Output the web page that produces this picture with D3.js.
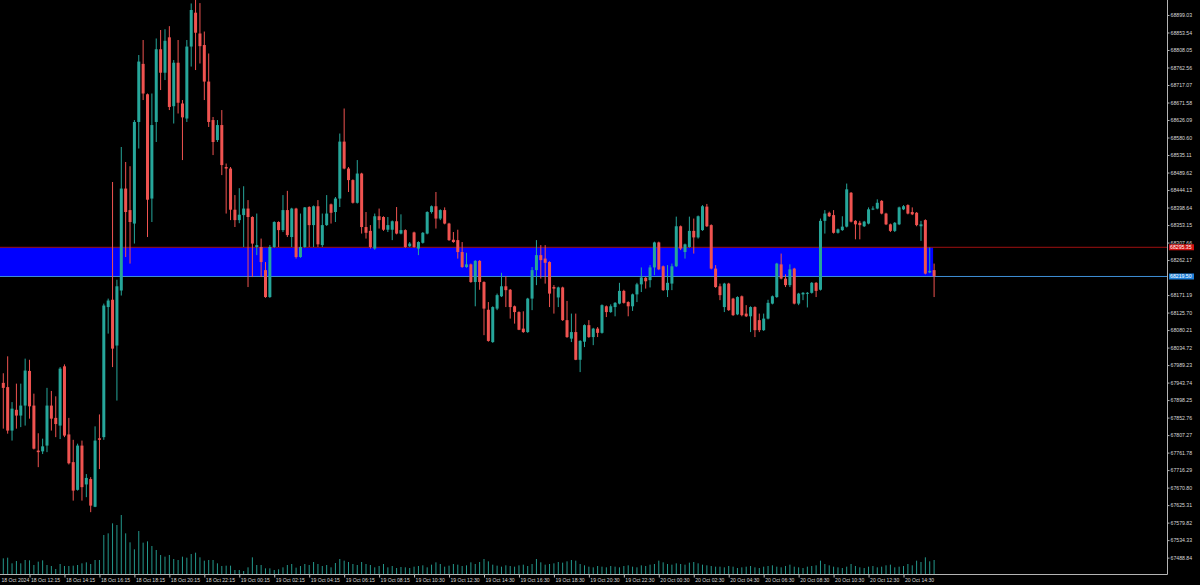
<!DOCTYPE html>
<html><head><meta charset="utf-8">
<script src="https://cdn.jsdelivr.net/npm/d3@7/dist/d3.min.js"></script>
<style>html,body{margin:0;padding:0;background:#000;}svg{display:block;}</style>
</head><body>
<svg id="c" width="1200" height="585"></svg>
<script>
// ---------- DATA ----------
const opens = [67943,67932,67819,67873,67858,67884,67974,67884,67767,67765,67780,67884,67852,67832,67986,67809,67737,67665,67780,67679,67693,67621,67799,67802,68140,68159,68040,68183,68448,68392,68357,68621,68772,68693,68422,68621,68810,68749,68841,68662,68775,68669,68630,68817,68905,68851,68821,68726,68626,68574,68613,68504,68500,68393,68366,68379,68396,68374,68296,68296,68236,68166,68296,68361,68340,68392,68322,68396,68270,68296,68400,68353,68402,68301,68353,68407,68387,68422,68570,68500,68470,68411,68487,68348,68338,68292,68376,68374,68341,68341,68363,68331,68340,68298,68334,68292,68307,68331,68387,68402,68370,68392,68357,68315,68314,68283,68244,68251,68205,68260,68205,68133,68049,68136,68168,68194,68185,68142,68127,68084,68075,68162,68236,68275,68266,68257,68192,68165,68191,68106,68058,68075,68003,68050,68093,68062,68084,68073,68142,68127,68140,68149,68182,68153,68142,68173,68199,68216,68210,68243,68308,68246,68184,68201,68246,68350,68283,68296,68338,68321,68340,68401,68353,68240,68194,68140,68201,68162,68121,68168,68123,68116,68140,68106,68080,68110,68149,68166,68251,68214,68197,68240,68149,68173,68175,68177,68203,68185,68364,68385,68379,68333,68340,68349,68437,68364,68359,68350,68357,68394,68396,68416,68383,68355,68338,68355,68394,68405,68387,68385,68350,68366,68230,68236];
const highs = [67968,68012,67893,67941,67941,68006,68003,67915,67812,67798,67930,67922,67908,67984,67991,67852,67795,67785,67793,67706,67698,67830,67861,68149,68162,68465,68211,68556,68517,68506,68626,68795,68834,68695,68695,68838,68860,68862,68870,68782,68834,68678,68834,68929,68938,68930,68856,68799,68634,68626,68652,68513,68504,68431,68449,68454,68418,68376,68383,68318,68257,68301,68363,68363,68431,68442,68398,68398,68383,68400,68402,68404,68418,68383,68431,68409,68426,68591,68656,68504,68472,68522,68489,68387,68353,68383,68396,68376,68374,68365,68400,68381,68342,68309,68336,68311,68335,68389,68404,68439,68394,68399,68359,68335,68341,68309,68281,68253,68262,68262,68207,68153,68142,68175,68229,68220,68187,68144,68129,68129,68164,68244,68314,68301,68301,68259,68197,68193,68193,68156,68123,68123,68054,68095,68106,68086,68088,68147,68144,68147,68153,68203,68185,68155,68175,68203,68243,68218,68249,68310,68310,68248,68249,68253,68375,68352,68305,68375,68370,68378,68405,68408,68355,68249,68201,68203,68203,68164,68168,68170,68145,68142,68142,68123,68123,68159,68170,68255,68279,68225,68251,68242,68177,68179,68179,68205,68205,68370,68392,68388,68392,68344,68376,68461,68439,68366,68364,68364,68399,68402,68420,68418,68385,68357,68361,68401,68405,68407,68399,68387,68364,68368,68295,68253];
const lows = [67824,67811,67793,67824,67828,67832,67850,67770,67724,67758,67763,67819,67802,67797,67802,67731,67637,67663,67637,67646,67607,67620,67719,67795,68071,67984,67897,68170,68270,68253,68305,68552,68678,68322,68361,68569,68704,68730,68652,68617,68643,68522,68621,68765,68756,68773,68678,68608,68535,68569,68483,68383,68366,68348,68358,68296,68192,68218,68275,68218,68164,68164,68294,68296,68335,68322,68296,68266,68268,68294,68296,68296,68296,68296,68351,68357,68361,68400,68498,68439,68409,68409,68331,68318,68292,68289,68344,68338,68335,68314,68329,68329,68294,68296,68294,68275,68305,68329,68383,68344,68366,68355,68312,68307,68266,68242,68242,68203,68142,68185,68067,68050,68047,68132,68166,68140,68110,68097,68080,68073,68073,68132,68197,68214,68201,68140,68123,68140,68104,68060,68049,68002,67971,68036,68060,68041,68062,68071,68114,68125,68116,68147,68149,68116,68130,68153,68179,68188,68191,68223,68236,68182,68166,68184,68244,68288,68266,68294,68279,68318,68338,68348,68238,68190,68158,68127,68130,68117,68119,68116,68114,68075,68062,68075,68078,68108,68147,68164,68212,68192,68192,68147,68145,68158,68139,68175,68166,68183,68331,68374,68331,68331,68338,68347,68360,68316,68316,68348,68355,68392,68394,68381,68353,68335,68335,68353,68392,68381,68379,68350,68312,68225,68228,68166];
const closes = [67930,67819,67876,67858,67884,67975,67882,67772,67763,67778,67884,67850,67836,67980,67806,67734,67663,67780,67672,67696,67624,67793,67795,68144,68157,68032,68194,68448,68387,68361,68621,68778,68695,68419,68613,68810,68749,68832,68660,68775,68671,68633,68817,68912,68853,68818,68726,68621,68569,68613,68509,68500,68393,68366,68380,68396,68374,68305,68301,68257,68166,68296,68361,68340,68392,68327,68396,68270,68296,68399,68353,68402,68303,68353,68383,68385,68422,68570,68500,68470,68411,68487,68348,68333,68296,68376,68366,68341,68353,68363,68331,68340,68296,68305,68296,68309,68333,68387,68402,68370,68392,68357,68314,68309,68283,68244,68251,68205,68260,68205,68136,68052,68140,68171,68194,68184,68140,68127,68081,68075,68162,68236,68275,68262,68255,68175,68188,68191,68106,68062,68075,68003,68052,68093,68062,68084,68073,68145,68127,68142,68151,68182,68151,68142,68173,68199,68217,68207,68243,68308,68238,68184,68203,68246,68350,68292,68303,68338,68321,68376,68402,68350,68240,68192,68171,68201,68132,68119,68166,68119,68116,68140,68080,68080,68110,68151,68168,68253,68214,68197,68238,68149,68175,68177,68177,68203,68182,68364,68383,68376,68333,68342,68349,68446,68362,68355,68353,68362,68394,68396,68411,68383,68355,68338,68359,68399,68402,68383,68381,68353,68355,68227,68234,68220];
const volumes = [47,49,32,39,32,42,41,27,37,41,27,24,15,30,24,24,25,27,32,35,30,42,42,117,122,152,147,177,122,95,74,129,94,98,84,72,57,52,57,45,42,52,49,60,64,50,40,42,42,32,24,25,25,12,12,9,20,50,27,27,17,17,12,14,20,27,30,19,
24,30,27,36,30,24,27,20,33,45,40,36,30,27,36,30,27,20,24,30,20,24,18,21,
20,18,22,24,26,20,28,35,30,22,25,30,28,24,26,35,30,36,45,38,28,25,22,26,
24,22,26,28,24,30,45,35,28,30,32,36,34,38,42,40,30,26,22,20,24,22,20,24,
22,20,24,26,22,20,26,24,28,30,40,35,30,28,32,30,28,34,36,32,28,26,24,22,
22,20,24,22,18,20,22,24,20,18,22,24,26,22,20,24,28,22,20,18,22,24,26,40,
30,26,22,20,18,22,30,24,20,18,22,24,20,22,26,28,20,22,24,30,26,40,36,50,38,42];
const priceTicks = [68899.03,68853.54,68808.05,68762.56,68717.07,68671.58,68626.09,68580.60,68535.11,68489.62,68444.13,68398.64,68353.15,68307.66,68262.17,68171.19,68125.70,68080.21,68034.72,67989.23,67943.74,67898.25,67852.76,67807.27,67761.78,67716.29,67670.80,67625.31,67579.82,67534.33,67488.84];
const timeLabels = ["18 Oct 2024","18 Oct 12:15","18 Oct 14:15","18 Oct 16:15","18 Oct 18:15","18 Oct 20:15","18 Oct 22:15","19 Oct 00:15","19 Oct 02:15","19 Oct 04:15","19 Oct 06:15","19 Oct 08:15","19 Oct 10:30","19 Oct 12:30","19 Oct 14:30","19 Oct 16:30","19 Oct 18:30","19 Oct 20:30","19 Oct 22:30","20 Oct 00:30","20 Oct 02:30","20 Oct 04:30","20 Oct 06:30","20 Oct 08:30","20 Oct 10:30","20 Oct 12:30","20 Oct 14:30"];
const timeLabelIdx = [-2,6,14,22,30,38,46,54,62,70,78,86,94,102,110,118,126,134,142,150,158,166,174,182,190,198,206];
const zoneTop = 68295.35;
const zoneBottom = 68219.50;

// ---------- CHART ----------
const n = closes.length;
const plotR = 1167, plotB = 574;
const svg = d3.select("#c");
svg.append("rect").attr("width",1200).attr("height",585).attr("fill","#000");

const x = d3.scaleLinear().domain([0, n-1]).range([3.3, 934.1]);
const y = d3.scaleLinear().domain([67446.3, 68938]).range([plotB, 0]);
const v = d3.scaleLinear().domain([0, 180]).range([plotB, plotB-60]);

const bull = "#26a69a", bear = "#ef5350";
const font = "'Liberation Sans', Arial, sans-serif";

// zone rectangle
svg.append("rect")
  .attr("x", 0).attr("y", y(zoneTop))
  .attr("width", x(n-1) - 1).attr("height", y(zoneBottom) - y(zoneTop))
  .attr("fill", "#0000ff");
svg.append("line").attr("x1",0).attr("x2",plotR).attr("y1",y(zoneTop)).attr("y2",y(zoneTop))
  .attr("stroke","#a01010").attr("stroke-width",1);
svg.append("line").attr("x1",0).attr("x2",plotR).attr("y1",y(zoneBottom)).attr("y2",y(zoneBottom))
  .attr("stroke","#3f8fd6").attr("stroke-width",1);

// volumes
svg.append("g").selectAll("line").data(volumes).join("line")
  .attr("x1",(d,i)=>x(i)).attr("x2",(d,i)=>x(i))
  .attr("y1",plotB).attr("y2",d=>v(d))
  .attr("stroke","#23978b").attr("stroke-width",1);

// candles
const idx = d3.range(n);
const g = svg.append("g");
g.selectAll("line.w").data(idx).join("line").attr("class","w")
  .attr("x1",i=>x(i)).attr("x2",i=>x(i))
  .attr("y1",i=>y(highs[i])).attr("y2",i=>y(lows[i]))
  .attr("stroke",i=>closes[i]>=opens[i]?bull:bear).attr("stroke-width",1);
g.selectAll("rect.b").data(idx).join("rect").attr("class","b")
  .attr("x",i=>x(i)-1.5).attr("width",3)
  .attr("y",i=>y(Math.max(opens[i],closes[i])))
  .attr("height",i=>Math.max(1, Math.abs(y(opens[i])-y(closes[i]))))
  .attr("fill",i=>closes[i]>=opens[i]?bull:bear);

// axes
const axisColor = "#b4b4b4";
svg.append("line").attr("x1",plotR+0.5).attr("x2",plotR+0.5).attr("y1",0).attr("y2",plotB+0.5)
  .attr("stroke",axisColor);
svg.append("line").attr("x1",0).attr("x2",plotR+0.5).attr("y1",plotB+0.5).attr("y2",plotB+0.5)
  .attr("stroke",axisColor);

const ya = svg.append("g").attr("transform",`translate(${plotR+0.5},0)`)
  .call(d3.axisRight(y).tickValues(priceTicks).tickSize(2).tickSizeOuter(0).tickPadding(1).tickFormat(d3.format(".2f")));
ya.select(".domain").remove();
ya.selectAll("line").attr("stroke",axisColor);
ya.selectAll("text").attr("fill","#d8d8d8").style("font-family",font).style("font-size","5.2px");

const xa = svg.append("g").attr("transform",`translate(0,${plotB+0.5})`)
  .call(d3.axisBottom(x).tickValues(timeLabelIdx).tickSize(3).tickSizeOuter(0).tickFormat((d,i)=>timeLabels[i]));
xa.select(".domain").remove();
xa.selectAll("line").attr("stroke",axisColor);
xa.selectAll("text").attr("fill","#d8d8d8").attr("text-anchor","start").attr("y",4)
  .attr("x", d => Math.max(1, 1 - x(d)))   // keep the first (partly off-chart) label inside the picture
  .style("font-family",font).style("font-size","5.1px");

// price labels for the zone lines
function priceTag(val, color){
  const gy = y(val);
  svg.append("rect").attr("x",plotR+2).attr("y",gy-3).attr("width",25).attr("height",6).attr("fill",color);
  svg.append("text").attr("x",plotR+3).attr("y",gy).attr("dy","0.35em")
    .attr("fill","#ffffff").style("font-family",font).style("font-size","5.2px")
    .text(d3.format(".2f")(val));
}
priceTag(zoneTop, "#d01010");
priceTag(zoneBottom, "#1e7fd8");
</script>
</body></html>
